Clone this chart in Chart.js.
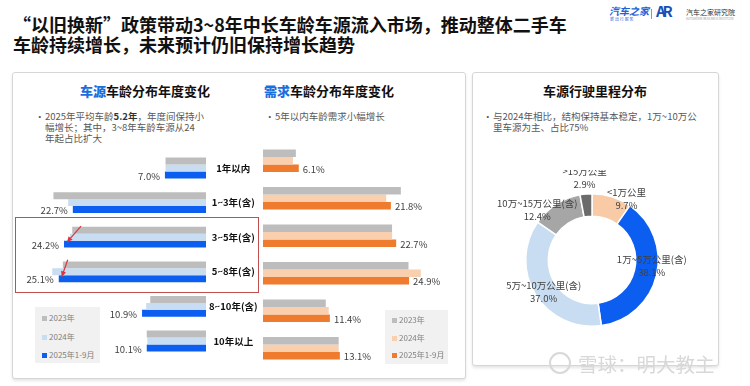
<!DOCTYPE html>
<html lang="zh-CN">
<head>
<meta charset="utf-8">
<script src="https://cdn.jsdelivr.net/npm/chart.js"></script>
<style>
  body { margin: 0; width: 750px; height: 386px; background: #fff; position: relative; overflow: hidden;
         font-family: "Noto Sans CJK SC", "Noto Sans", sans-serif; color: #222; }
  .abs { position: absolute; white-space: nowrap; }
  .card { position: absolute; border: 1px solid #d6d6d6; border-radius: 3px; background: #fff;
          box-shadow: 0 2px 3px rgba(0,0,0,0.10); }
  .title { font-size: 18px; font-weight: bold; line-height: 20px; color: #111; }
  .sub { font-size: 13px; font-weight: bold; color: #111; }
  .sub b { color: #1a6fdc; }
  .bullet { font-size: 9.5px; line-height: 11px; color: #595959; }
  .bullet .dot { position: absolute; left: -10px; top: 0; }
  .legend { position: absolute; background: #f1f1f1; font-size: 8px; color: #7f7f7f; }
  .legend div { position: absolute; left: 7px; white-space: nowrap; }
  .legend i { display: inline-block; width: 5px; height: 5px; margin-right: 2px; vertical-align: 0; }
  canvas { position: absolute; }
</style>
</head>
<body>

<div class="abs title" style="left:13px;top:14px">“以旧换新”政策带动3~8年中长车龄车源流入市场，推动整体二手车<br>车龄持续增长，未来预计仍旧保持增长趋势</div>

<!-- logo -->
<div class="abs" style="left:609px;top:3px;font-size:10px;font-weight:bold;font-style:italic;color:#1d62d8">汽车之家</div>
<div class="abs" style="left:610px;top:16px;font-size:4px;color:#1d62d8">新 出 行 服 务</div>
<div class="abs" style="left:651px;top:9px;width:1px;height:10px;background:#999"></div>
<div class="abs" style="left:656px;top:0px;font-size:15px;font-weight:bold;color:#1b4fb8;letter-spacing:-3px">AR</div>
<div class="abs" style="left:686px;top:7px;font-size:7px;color:#333">汽车之家研究院</div>
<div class="abs" style="left:686px;top:17px;font-size:3px;color:#999">AUTOHOME RESEARCH INSTITUTE</div>

<div class="card" style="left:12px;top:72px;width:452px;height:305px"></div>
<div class="card" style="left:472px;top:72px;width:245px;height:292px"></div>

<div class="abs sub" style="left:80px;top:81px"><b>车源</b>车龄分布年度变化</div>
<div class="abs sub" style="left:264px;top:81px"><b>需求</b>车龄分布年度变化</div>
<div class="abs sub" style="left:543px;top:81px">车源行驶里程分布</div>

<div class="abs bullet" style="left:45px;top:111px"><span class="dot">•</span>2025年平均车龄<b style="color:#333">5.2年</b>，年度间保持小<br>幅增长；其中，3~8年车龄车源从24<br>年起占比扩大</div>
<div class="abs bullet" style="left:275px;top:111px"><span class="dot">•</span>5年以内车龄需求小幅增长</div>
<div class="abs bullet" style="left:493px;top:111px"><span class="dot">•</span>与2024年相比，结构保持基本稳定，1万~10万公<br>里车源为主、占比75%</div>

<div class="abs" style="left:15px;top:217px;width:242px;height:74px;border:1px solid #c0504d"></div>

<canvas id="supplyChart" width="246" height="225" style="left:12px;top:142px"></canvas>
<canvas id="demandChart" width="200" height="225" style="left:263px;top:142px"></canvas>
<canvas id="mileageChart" width="230" height="180" style="left:477px;top:170px"></canvas>

<div class="legend" style="left:35px;top:307px;width:65px;height:56px">
  <div style="top:5px"><i style="background:#bdbdbd"></i>2023年</div>
  <div style="top:24px"><i style="background:#c8ddf2"></i>2024年</div>
  <div style="top:42px"><i style="background:#0b5ef0"></i>2025年1-9月</div>
</div>
<div class="legend" style="left:385px;top:310px;width:63px;height:54px">
  <div style="top:4px"><i style="background:#bdbdbd"></i>2023年</div>
  <div style="top:22px"><i style="background:#f9cfae"></i>2024年</div>
  <div style="top:39px"><i style="background:#ee7b2e"></i>2025年1-9月</div>
</div>

<!-- watermark -->
<div class="abs" style="left:549px;top:352px;width:18px;height:18px;border:2px solid #d8d8d8;border-radius:50%"></div>
<div class="abs" style="left:578px;top:349px;font-size:19.5px;color:#d8d8d8">雪球：明大教主</div>

<script>
// age buckets, share in %
const ageCats = ['1年以内', '1~3年(含)', '3~5年(含)', '5~8年(含)', '8~10年(含)', '10年以上'];
const yearNames = ['2023年', '2024年', '2025年1-9月'];

const supply2023 = [6.9, 26.0, 22.8, 24.4, 9.5, 10.1];
const supply2024 = [6.9, 23.5, 23.2, 26.2, 10.2, 10.0];
const supply2025 = [7.0, 22.7, 24.2, 25.1, 10.9, 10.1];

const demand2023 = [5.6, 23.5, 22.0, 24.8, 10.7, 12.9];
const demand2024 = [5.1, 21.0, 22.0, 26.9, 11.2, 12.9];
const demand2025 = [6.1, 21.8, 22.7, 24.9, 11.4, 13.1];

const mileageCats = ['<1万公里', '1万~5万公里(含)', '5万~10万公里(含)', '10万~15万公里(含)', '>15万公里'];
const mileageShare = [9.7, 38.1, 37.0, 12.4, 2.9];

Chart.defaults.font.family = '"Noto Sans CJK SC", "Noto Sans", sans-serif';
Chart.defaults.animation = false;

// percent text next to the 2025 bars
const valueLabels = {
    id: 'valueLabels',
    afterDatasetsDraw(chart, args, opts) {
        const ctx = chart.ctx;
        const ds = chart.data.datasets[2];
        ctx.save();
        ctx.font = '9.5px "Noto Sans CJK SC"';
        ctx.fillStyle = '#404040';
        ctx.textBaseline = 'middle';
        ctx.textAlign = opts.side === 'left' ? 'right' : 'left';
        chart.getDatasetMeta(2).data.forEach((bar, i) => {
            let x = opts.side === 'left' ? bar.x - 5 : bar.x + 4;
            ctx.fillText(ds.data[i].toFixed(1) + '%', x, bar.y + 1);
        });
        ctx.restore();
    }
};

// red arrows pointing at the start of the highlighted 2025 bars
const arrowMarks = {
    id: 'arrowMarks',
    afterDatasetsDraw(chart, args, opts) {
        if (!opts.targets) return;
        const ctx = chart.ctx;
        const meta = chart.getDatasetMeta(2);
        ctx.save();
        ctx.strokeStyle = '#d9363e';
        ctx.fillStyle = '#d9363e';
        ctx.lineWidth = 1.2;
        opts.targets.forEach(t => {
            const bar = meta.data[t.index];
            const x1 = bar.x + 3, y1 = bar.y - 2;
            const x0 = x1 + t.dx, y0 = y1 - t.dy;
            ctx.beginPath();
            ctx.moveTo(x0, y0);
            ctx.lineTo(x1, y1);
            ctx.stroke();
            const a = Math.atan2(y1 - y0, x1 - x0);
            ctx.beginPath();
            ctx.moveTo(x1, y1);
            ctx.lineTo(x1 - 6 * Math.cos(a - 0.45), y1 - 6 * Math.sin(a - 0.45));
            ctx.lineTo(x1 - 6 * Math.cos(a + 0.45), y1 - 6 * Math.sin(a + 0.45));
            ctx.closePath();
            ctx.fill();
        });
        ctx.restore();
    }
};

// two-line labels around the doughnut
const sliceLabels = {
    id: 'sliceLabels',
    afterDatasetsDraw(chart, args, opts) {
        const ctx = chart.ctx;
        const ds = chart.data.datasets[0];
        ctx.save();
        ctx.font = '9.5px "Noto Sans CJK SC"';
        ctx.fillStyle = '#404040';
        ctx.textAlign = 'center';
        ctx.textBaseline = 'middle';
        chart.getDatasetMeta(0).data.forEach((arc, i) => {
            const p = opts.place[i];
            const mid = (arc.startAngle + arc.endAngle) / 2 + p.da * Math.PI / 180;
            const x = arc.x + p.r * Math.cos(mid);
            const y = arc.y + p.r * Math.sin(mid);
            ctx.fillText(chart.data.labels[i], x, y - 6.5);
            ctx.fillText(ds.data[i].toFixed(1) + '%', x, y + 6.5);
        });
        ctx.restore();
    }
};

function barSets(a, b, c, colors) {
    return [a, b, c].map((d, i) => ({
        label: yearNames[i],
        data: d,
        backgroundColor: colors[i],
        barPercentage: 1,
        categoryPercentage: 0.6
    }));
}

window.onload = function () {
    new Chart(document.getElementById('supplyChart'), {
        type: 'bar',
        data: { labels: ageCats, datasets: barSets(supply2023, supply2024, supply2025, ['#bdbdbd', '#c8ddf2', '#0b5ef0']) },
        options: {
            indexAxis: 'y',
            responsive: false,
            layout: { padding: { left: 18, right: 0, top: 0, bottom: 0 } },
            scales: {
                x: { reverse: true, min: 0, max: 30, display: false },
                y: {
                    position: 'right',
                    grid: { display: false, drawTicks: false },
                    border: { display: false },
                    ticks: { padding: 3, crossAlign: 'center', color: '#111', font: { size: 9.5, weight: 'bold' } },
                    afterFit: s => { s.width = 52; }
                }
            },
            plugins: {
                legend: { display: false },
                tooltip: { enabled: false },
                valueLabels: { side: 'left' },
                arrowMarks: { targets: [{ index: 2, dx: 14, dy: 16 }, { index: 3, dx: 6, dy: 17 }] }
            }
        },
        plugins: [valueLabels, arrowMarks]
    });

    new Chart(document.getElementById('demandChart'), {
        type: 'bar',
        data: { labels: ageCats, datasets: barSets(demand2023, demand2024, demand2025, ['#bdbdbd', '#f9cfae', '#ee7b2e']) },
        options: {
            indexAxis: 'y',
            responsive: false,
            layout: { padding: { left: 0, right: 24, top: 0, bottom: 0 } },
            scales: {
                x: { min: 0, max: 30, display: false },
                y: { display: false }
            },
            plugins: {
                legend: { display: false },
                tooltip: { enabled: false },
                valueLabels: { side: 'right' }
            }
        },
        plugins: [valueLabels]
    });

    new Chart(document.getElementById('mileageChart'), {
        type: 'doughnut',
        data: {
            labels: mileageCats,
            datasets: [{
                data: mileageShare,
                backgroundColor: ['#f8cba6', '#0b5ef0', '#c8ddf2', '#a6a6a6', '#6b6b6b'],
                borderColor: '#fff',
                borderWidth: 1.5
            }]
        },
        options: {
            responsive: false,
            cutout: '66%',
            layout: { padding: 23 },
            plugins: {
                legend: { display: false },
                tooltip: { enabled: false },
                sliceLabels: {
                    place: [
                        { r: 70, da: 12 }, { r: 60, da: -8 }, { r: 58, da: -2 },
                        { r: 74, da: -15 }, { r: 82, da: 0 }
                    ]
                }
            }
        },
        plugins: [sliceLabels]
    });
};
</script>
</body>
</html>
